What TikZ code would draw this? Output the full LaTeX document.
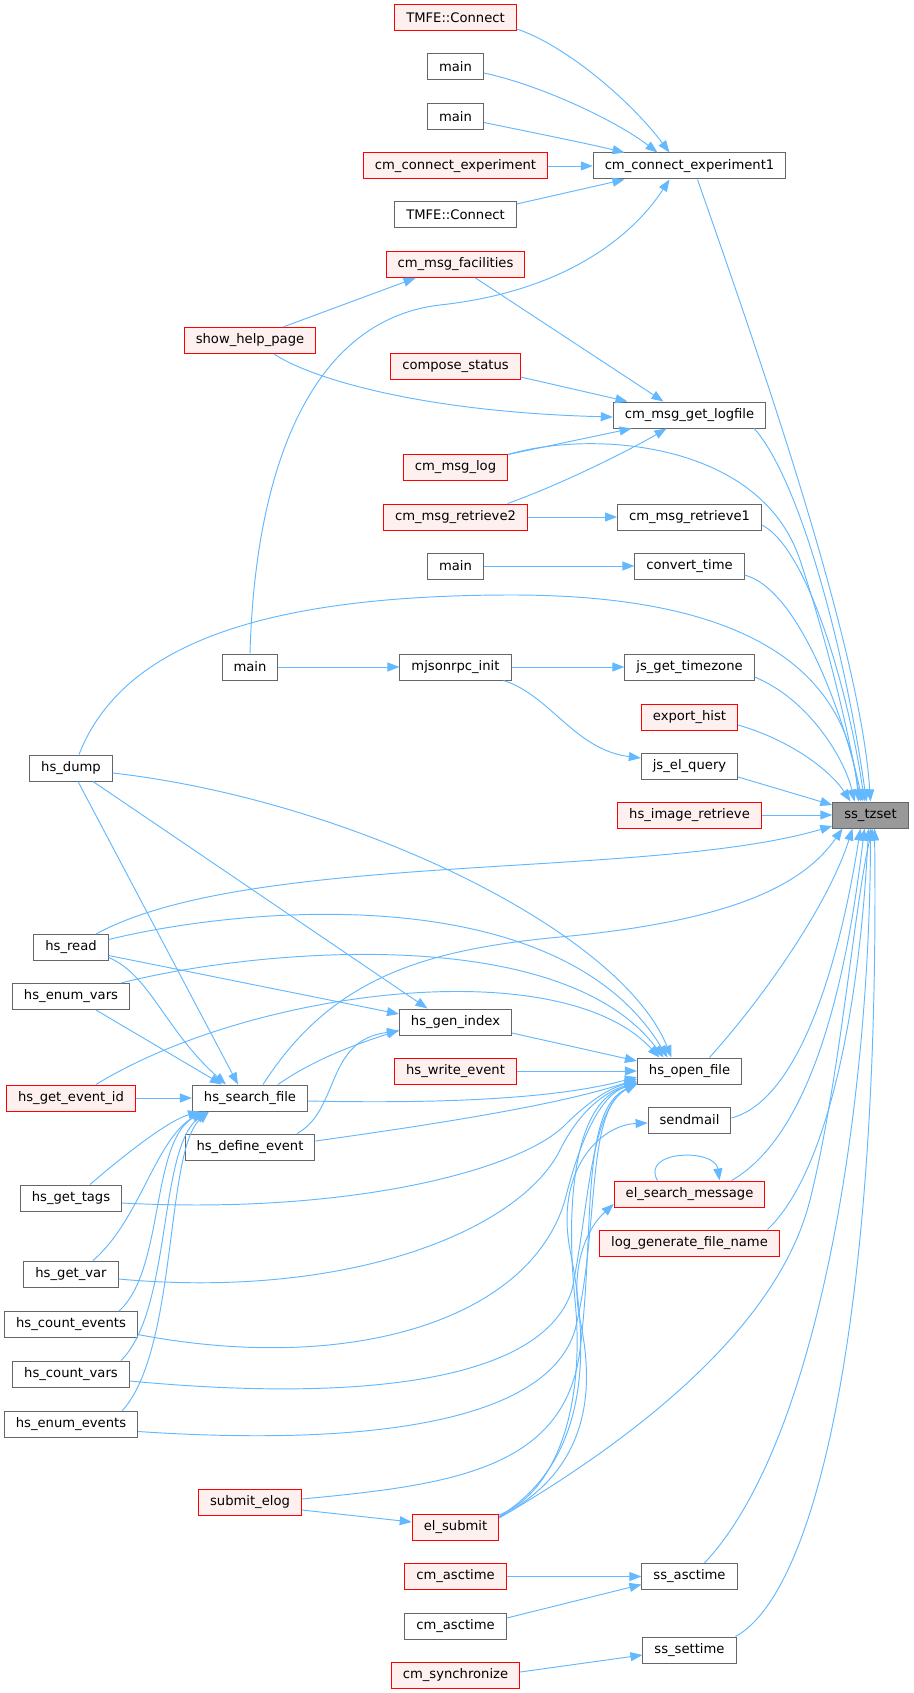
\documentclass[tikz,border=0pt]{standalone}
\usepackage{fontspec}
\setmainfont{DejaVu Sans}
\usetikzlibrary{arrows.meta,calc}
\definecolor{edgec}{HTML}{63B8FF}
\definecolor{redb}{HTML}{FF0000}
\definecolor{redf}{HTML}{FFF0F0}
\definecolor{grayb}{HTML}{666666}
\definecolor{tgtf}{HTML}{999999}
\tikzset{
 box/.style={rectangle, draw, line width=1pt, minimum height=26pt, inner xsep=11.5pt, inner ysep=0pt, font=\fontsize{13.15}{15}\selectfont, text=black},
 nb/.style={box, draw=grayb, fill=white},
 nr/.style={box, draw=redb, fill=redf},
 nt/.style={box, draw=grayb, fill=tgtf},
 cl/.style={draw=edgec, line width=0.95pt, -{Triangle[length=12pt,width=9pt]}},
}
\begin{document}
\begin{tikzpicture}[x=1pt,y=-1pt]
\useasboundingbox (0,0) rectangle (913,1693);
% column C
\node[nr] (tc1) at (455.5,18) {TMFE::Connect};
\node[nb] (m1) at (455.5,67) {main};
\node[nb] (m2) at (455.5,116.5) {main};
\node[nr] (cce) at (455.5,166) {cm\_connect\_experiment};
\node[nb] (tc2) at (455.5,215) {TMFE::Connect};
\node[nr] (cmf) at (455.5,264.5) {cm\_msg\_facilities};
\node[nr] (cs) at (455.5,366) {compose\_status};
\node[nr] (cml) at (455.5,467) {cm\_msg\_log};
\node[nr] (cmr2) at (455.5,517) {cm\_msg\_retrieve2};
\node[nb] (m3) at (455.5,566) {main};
\node[nb] (mji) at (455.5,667) {mjsonrpc\_init};
\node[nb] (hgi) at (455.5,1022) {hs\_gen\_index};
\node[nr] (hwe) at (455.5,1071) {hs\_write\_event};
\node[nr] (els) at (455.5,1527) {el\_submit};
\node[nr] (cat1) at (455.5,1576.5) {cm\_asctime};
\node[nb] (cat2) at (455.5,1626) {cm\_asctime};
\node[nr] (csy) at (455.5,1675) {cm\_synchronize};
% column B
\node[nr] (shp) at (250,340.5) {show\_help\_page};
\node[nb] (m4) at (250,667) {main};
\node[nb] (hsf) at (250,1098) {hs\_search\_file};
\node[nb] (hde) at (250,1147) {hs\_define\_event};
\node[nr] (sel) at (250,1502) {submit\_elog};
% column A
\node[nb] (hd) at (71,768) {hs\_dump};
\node[nb] (hr) at (71,947.5) {hs\_read};
\node[nb] (hev) at (71,996.5) {hs\_enum\_vars};
\node[nr] (hgei) at (71,1098) {hs\_get\_event\_id};
\node[nb] (hgt) at (71,1198) {hs\_get\_tags};
\node[nb] (hgv) at (71,1274) {hs\_get\_var};
\node[nb] (hce) at (71,1324.5) {hs\_count\_events};
\node[nb] (hcv) at (71,1374) {hs\_count\_vars};
\node[nb] (hee) at (71,1424.5) {hs\_enum\_events};
% column D
\node[nb] (cce1) at (689.5,166) {cm\_connect\_experiment1};
\node[nb] (cmgl) at (689.5,415) {cm\_msg\_get\_logfile};
\node[nb] (cmr1) at (689.5,517) {cm\_msg\_retrieve1};
\node[nb] (ct) at (689.5,566) {convert\_time};
\node[nb] (jgt) at (689.5,667) {js\_get\_timezone};
\node[nr] (eh) at (689.5,717) {export\_hist};
\node[nb] (jeq) at (689.5,766) {js\_el\_query};
\node[nr] (hir) at (689.5,815) {hs\_image\_retrieve};
\node[nb] (hof) at (689.5,1071) {hs\_open\_file};
\node[nb] (sm) at (689.5,1120) {sendmail};
\node[nr] (esm) at (689.5,1194) {el\_search\_message};
\node[nr] (lgf) at (689.5,1243) {log\_generate\_file\_name};
\node[nb] (sat) at (689.5,1576.5) {ss\_asctime};
\node[nb] (sst) at (689.5,1650) {ss\_settime};
% target
\node[nt] (tz) at (870.5,815) {ss\_tzset};

% upper edges
\draw[cl] ($(tc1.east)+(0,11)$) .. controls (565,45) and (630,100) .. ($(cce1.north)+(-20,0)$);
\draw[cl] ($(m1.east)+(0,6)$) .. controls (540,85) and (615,120) .. ($(cce1.north)+(-32,0)$);
\draw[cl] ($(m2.east)+(0,6)$) .. controls (530,132) and (585,143) .. ($(cce1.north)+(-65,0)$);
\draw[cl] (cce.east) -- (cce1.west);
\draw[cl] ($(tc2.east)+(0,-11)$) -- ($(cce1.south)+(-65,0)$);
\draw[cl] (m4.north) .. controls (255,470) and (310,320) .. (440,305) .. controls (560,292) and (630,240) .. ($(cce1.south)+(-20,0)$);
\draw[cl] ($(cce1.south)+(8,0)$) .. controls (750,330) and (860,640) .. (tz.north);
\draw[cl] ($(shp.north)+(33,0)$) -- ($(cmf.south)+(-40,0)$);
\draw[cl] ($(cmf.south)+(20,0)$) -- ($(cmgl.north)+(-26,0)$);
\draw[cl] ($(shp.south)+(24,0)$) .. controls (310,378) and (420,412) .. ($(cmgl.west)+(0,2)$);
\draw[cl] ($(cs.east)+(0,11)$) -- ($(cmgl.north)+(-62,0)$);
\draw[cl] ($(cml.north east)+(0,1)$) -- ($(cmgl.south)+(-58,0)$);
\draw[cl] ($(cml.north east)+(0,1)$) .. controls (590,430) and (760,440) .. (800,560) .. controls (830,650) and (850,740) .. ($(tz.north)+(-10,0)$);
\draw[cl] ($(cmr2.north)+(52,0)$) .. controls (560,485) and (630,450) .. ($(cmgl.south)+(-23,0)$);
\draw[cl] ($(cmgl.south east)+(-12,0)$) .. controls (800,480) and (845,650) .. ($(tz.north)+(-4,0)$);
\draw[cl] (cmr2.east) -- (cmr1.west);
\draw[cl] ($(cmr1.east)+(0,8)$) .. controls (810,550) and (850,700) .. ($(tz.north)+(-6,0)$);
\draw[cl] (m3.east) -- (ct.west);
\draw[cl] ($(ct.east)+(0,9)$) .. controls (800,590) and (845,720) .. ($(tz.north)+(-8,0)$);
\draw[cl] ($(hd.north)+(8,0)$) .. controls (120,650) and (250,595) .. (512,595) .. controls (790,595) and (850,700) .. ($(tz.north)+(-12,0)$);
\draw[cl] (m4.east) -- (mji.west);
\draw[cl] (mji.east) -- (jgt.west);
\draw[cl] ($(jgt.east)+(0,10)$) .. controls (810,700) and (845,760) .. ($(tz.north)+(-16,0)$);
\draw[cl] ($(mji.south)+(48,0)$) .. controls (550,695) and (575,750) .. ($(jeq.west)+(0,-8)$);
\draw[cl] ($(eh.east)+(0,8)$) .. controls (790,740) and (830,770) .. ($(tz.north)+(-20,0)$);
\draw[cl] ($(jeq.east)+(0,11)$) -- ($(tz.west)+(0,-10)$);
\draw[cl] (hir.east) -- (tz.west);
% edges into ss_tzset from below
\draw[cl] ($(hr.north)+(25,0)$) .. controls (250,850) and (650,880) .. ($(tz.west)+(0,11)$);
\draw[cl] ($(hsf.north)+(13,0)$) .. controls (330,980) and (420,950) .. (560,937) .. controls (720,922) and (800,890) .. ($(tz.south)+(-28,0)$);
\draw[cl] ($(hof.north)+(20,0)$) .. controls (770,990) and (830,900) .. ($(tz.south)+(-18,0)$);
\draw[cl] ($(sm.east)+(0,-2)$) .. controls (800,1100) and (840,960) .. ($(tz.south)+(-10,0)$);
\draw[cl] ($(esm.north)+(42,0)$) .. controls (820,1130) and (850,950) .. ($(tz.south)+(-6,0)$);
\draw[cl] ($(lgf.north)+(78,0)$) .. controls (830,1170) and (860,1000) .. ($(tz.south)+(-2,0)$);
\draw[cl] ($(els.east)+(0,-9)$) .. controls (650,1430) and (780,1320) .. (810,1200) .. controls (840,1080) and (855,900) .. ($(tz.south)+(2,0)$);
\draw[cl] ($(sat.north)+(15,0)$) .. controls (820,1440) and (870,1100) .. (tz.south);
\draw[cl] ($(sst.north)+(46,0)$) .. controls (820,1590) and (880,1300) .. ($(tz.south)+(4,0)$);
\draw[cl] ($(esm.north)+(-32,0)$) .. controls (640,1150) and (715,1148) .. ($(esm.north)+(30,0)$);
% hs edges
\draw[cl] ($(hd.south)+(7,0)$) -- ($(hsf.north)+(-12,0)$);
\draw[cl] ($(hd.south)+(22,0)$) -- ($(hgi.north)+(-28,0)$);
\draw[cl] ($(hd.east)+(0,5)$) .. controls (350,800) and (620,930) .. ($(hof.north)+(-18,0)$);
\draw[cl] ($(hr.east)+(0,-8)$) .. controls (250,905) and (560,880) .. ($(hof.north)+(-22,0)$);
\draw[cl] ($(hr.east)+(0,8)$) -- ($(hgi.west)+(0,-8)$);
\draw[cl] ($(hr.east)+(0,10)$) .. controls (150,975) and (165,1030) .. ($(hsf.north)+(-24,0)$);
\draw[cl] ($(hev.north)+(50,0)$) .. controls (250,950) and (560,920) .. ($(hof.north)+(-26,0)$);
\draw[cl] ($(hev.south)+(25,0)$) -- ($(hsf.north)+(-28,0)$);
\draw[cl] (hgei.east) -- (hsf.west);
\draw[cl] ($(hgei.north)+(25,0)$) .. controls (250,990) and (560,950) .. ($(hof.north)+(-30,0)$);
\draw[cl] ($(hgi.east)+(0,11)$) -- ($(hof.west)+(0,-10)$);
\draw[cl] ($(hsf.north)+(28,0)$) .. controls (320,1055) and (370,1040) .. ($(hgi.west)+(0,8)$);
\draw[cl] ($(hde.north)+(47,0)$) .. controls (340,1110) and (325,1040) .. ($(hgi.west)+(0,9)$);
\draw[cl] (hwe.east) -- (hof.west);
\draw[cl] ($(hsf.east)+(0,3)$) .. controls (450,1104) and (560,1098) .. ($(hof.west)+(0,6)$);
\draw[cl] ($(hde.east)+(0,-6)$) .. controls (430,1125) and (560,1105) .. ($(hof.west)+(0,8)$);
\draw[cl] ($(hgt.north)+(19,0)$) .. controls (130,1150) and (170,1120) .. ($(hsf.south)+(-50,0)$);
\draw[cl] ($(hgt.east)+(0,5)$) .. controls (350,1215) and (520,1170) .. (565,1125) .. controls (590,1100) and (610,1088) .. ($(hof.west)+(0,10)$);
\draw[cl] ($(hgv.north)+(22,0)$) .. controls (140,1220) and (155,1140) .. ($(hsf.south)+(-47,0)$);
\draw[cl] ($(hgv.east)+(0,5)$) .. controls (350,1300) and (520,1230) .. (560,1150) .. controls (580,1110) and (605,1092) .. ($(hof.west)+(0,11)$);
\draw[cl] ($(hce.north)+(48,0)$) .. controls (165,1270) and (150,1140) .. ($(hsf.south)+(-45,0)$);
\draw[cl] ($(hce.east)+(0,10)$) .. controls (350,1375) and (530,1320) .. (565,1200) .. controls (580,1140) and (600,1095) .. ($(hof.west)+(0,12)$);
\draw[cl] ($(hcv.north)+(50,0)$) .. controls (172,1310) and (158,1150) .. ($(hsf.south)+(-43,0)$);
\draw[cl] ($(hcv.east)+(0,7)$) .. controls (330,1400) and (540,1390) .. (572,1290) .. controls (590,1200) and (590,1110) .. ($(hof.west)+(0,12)$);
\draw[cl] ($(hee.north)+(51,0)$) .. controls (178,1350) and (165,1150) .. ($(hsf.south)+(-41,0)$);
\draw[cl] ($(hee.east)+(0,7)$) .. controls (340,1445) and (545,1430) .. (575,1330) .. controls (600,1230) and (585,1110) .. ($(hof.west)+(0,13)$);
\draw[cl] ($(sel.east)+(0,-3)$) .. controls (450,1485) and (565,1470) .. (580,1350) .. controls (595,1230) and (580,1110) .. ($(hof.west)+(0,13)$);
\draw[cl] ($(sel.east)+(0,8)$) -- ($(els.west)+(0,-5)$);
\draw[cl] ($(els.east)+(0,-12)$) .. controls (560,1490) and (585,1400) .. (575,1300) .. controls (565,1200) and (575,1100) .. ($(hof.west)+(0,13)$);
\draw[cl] ($(els.north east)+(0,3)$) .. controls (590,1460) and (590,1350) .. (570,1250) .. controls (555,1170) and (600,1125) .. ($(sm.west)+(0,3)$);
\draw[cl] ($(els.east)+(0,-10)$) .. controls (590,1470) and (595,1390) .. (580,1320) .. controls (570,1270) and (585,1230) .. ($(esm.west)+(0,10)$);
\draw[cl] (cat1.east) -- (sat.west);
\draw[cl] ($(cat2.east)+(0,-8)$) -- ($(sat.west)+(0,8)$);
\draw[cl] ($(csy.east)+(0,-3)$) -- ($(sst.west)+(0,5)$);
\end{tikzpicture}
\end{document}
